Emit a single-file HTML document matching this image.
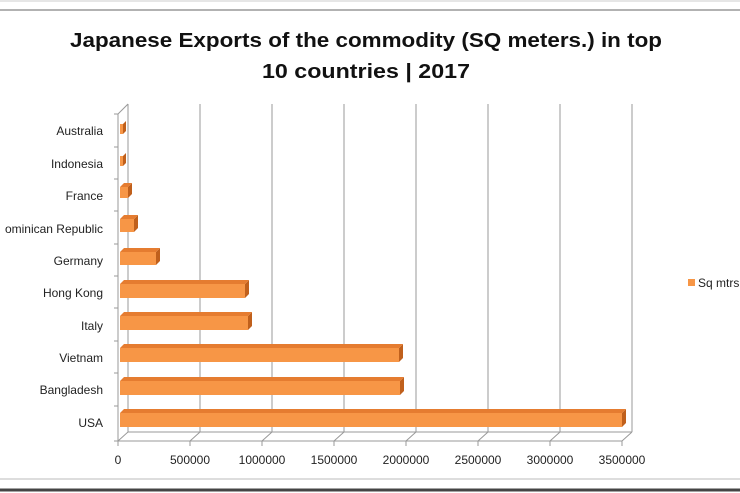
<!DOCTYPE html>
<html><head><style>body{margin:0;background:#fff}svg{display:block}</style></head>
<body>
<svg width="740" height="493" xmlns="http://www.w3.org/2000/svg" font-family="Liberation Sans, sans-serif">
<line x1="0" y1="1" x2="740" y2="1" stroke="#ccc"/>
<line x1="0" y1="10" x2="740" y2="10" stroke="#999" stroke-width="1.5"/>
<line x1="0" y1="479" x2="740" y2="479" stroke="#bbb"/>
<line x1="0" y1="490" x2="740" y2="490" stroke="#444" stroke-width="3"/>
<text x="366" y="47" text-anchor="middle" font-size="20" font-weight="bold" textLength="592" lengthAdjust="spacingAndGlyphs" fill="#111">Japanese Exports of the commodity (SQ meters.) in top</text>
<text x="366" y="78" text-anchor="middle" font-size="20" font-weight="bold" textLength="208" lengthAdjust="spacingAndGlyphs" fill="#111">10 countries | 2017</text>
<g stroke="#999" fill="none">
<line x1="128" y1="104" x2="128" y2="432"/>
<line x1="118" y1="114" x2="118" y2="441"/>
<line x1="118" y1="114" x2="128" y2="104"/>
<line x1="128" y1="432" x2="632" y2="432"/>
<line x1="118" y1="441" x2="622" y2="441"/>
<line x1="632" y1="104" x2="632" y2="432"/>
<line x1="622" y1="441" x2="632" y2="432"/>
</g>
<g stroke="#999">
<line x1="200" y1="104" x2="200" y2="432"/><line x1="272" y1="104" x2="272" y2="432"/><line x1="344" y1="104" x2="344" y2="432"/><line x1="416" y1="104" x2="416" y2="432"/><line x1="488" y1="104" x2="488" y2="432"/><line x1="560" y1="104" x2="560" y2="432"/>
<path d="M190 441 l10 -9 M262 441 l10 -9 M334 441 l10 -9 M406 441 l10 -9 M478 441 l10 -9 M550 441 l10 -9 M118 441 l10 -9" fill="none"/>
<path d="M118 441v5M190 441v5M262 441v5M334 441v5M406 441v5M478 441v5M550 441v5M622 441v5"/>
<path d="M114 114h4M114 147h4M114 179h4M114 211h4M114 244h4M114 276h4M114 308h4M114 341h4M114 373h4M114 406h4M114 441h4"/>
</g>
<g font-size="12" fill="#222" text-anchor="middle">
<text x="118" y="464">0</text><text x="190" y="464">500000</text><text x="262" y="464">1000000</text><text x="334" y="464">1500000</text><text x="406" y="464">2000000</text><text x="478" y="464">2500000</text><text x="550" y="464">3000000</text><text x="622" y="464">3500000</text>
</g>
<g font-size="12" fill="#222" text-anchor="end">
<text x="103" y="135">Australia</text><text x="103" y="168">Indonesia</text><text x="103" y="200">France</text><text x="103" y="233">ominican Republic</text><text x="103" y="265">Germany</text><text x="103" y="297">Hong Kong</text><text x="103" y="330">Italy</text><text x="103" y="362">Vietnam</text><text x="103" y="394">Bangladesh</text><text x="103" y="427">USA</text>
</g>
<g fill="#f79646">
<rect x="120" y="124" width="3" height="10"/><rect x="120" y="156" width="3" height="10"/>
<rect x="120" y="187" width="8" height="11"/><rect x="120" y="219" width="14" height="13"/>
<rect x="120" y="252" width="36" height="13"/><rect x="120" y="284" width="125" height="14"/>
<rect x="120" y="316" width="128" height="14"/><rect x="120" y="348" width="279" height="14"/>
<rect x="120" y="381" width="280" height="14"/><rect x="120" y="413" width="502" height="14"/>
</g>
<g fill="#c0601c">
<path d="M123 124l3-3v10l-3 3z"/><path d="M123 156l3-3v10l-3 3z"/>
<path d="M128 187l4-4v11l-4 4z"/><path d="M134 219l4-4v13l-4 4z"/>
<path d="M156 252l4-4v13l-4 4z"/><path d="M245 284l4-4v14l-4 4z"/>
<path d="M248 316l4-4v14l-4 4z"/><path d="M399 348l4-4v14l-4 4z"/>
<path d="M400 381l4-4v14l-4 4z"/><path d="M622 413l4-4v14l-4 4z"/>
</g>
<g fill="#e57c30">
<path d="M120 187l4-4h8l-4 4z"/><path d="M120 219l4-4h14l-4 4z"/><path d="M120 252l4-4h36l-4 4z"/>
<path d="M120 284l4-4h125l-4 4z"/><path d="M120 316l4-4h128l-4 4z"/><path d="M120 348l4-4h279l-4 4z"/>
<path d="M120 381l4-4h280l-4 4z"/><path d="M120 413l4-4h502l-4 4z"/>
</g>
<rect x="688" y="279" width="7" height="7" fill="#f79646"/>
<text x="698" y="287" font-size="12" fill="#222">Sq mtrs</text>
</svg>
</body></html>
